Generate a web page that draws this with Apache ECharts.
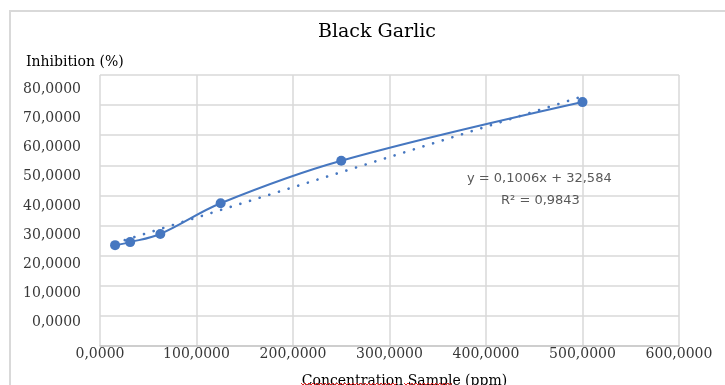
<!DOCTYPE html>
<html>
<head>
<meta charset="utf-8">
<script src="https://cdn.jsdelivr.net/npm/echarts@6/dist/echarts.min.js"></script>
<style>
  html, body { margin: 0; padding: 0; background: #ffffff; }
  #chart { width: 725px; height: 385px; }
</style>
</head>
<body>
<div id="chart"></div>
<script>
// ---- data ----
const concentrations = [15.625, 31.25, 62.5, 125, 250, 500];
const inhibition = [33.5, 34.5, 37.2, 47.4, 61.5, 81.0];
const yTickLabels = [0, 10, 20, 30, 40, 50, 60, 70, 80];
const xTickLabels = [0, 100, 200, 300, 400, 500, 600];
const trendSlope = 0.1006;
const trendIntercept = 32.584;
const equationText = 'y = 0,1006x + 32,584';
const r2Text = 'R² = 0,9843';
const titleText = 'Black Garlic';
const yAxisTitle = 'Inhibition (%)';
const xAxisTitle = 'Concentration Sample (ppm)';

// ---- build ----
const fmt = v => v.toFixed(4).replace('.', ',');
const points = concentrations.map((c, i) => [c, inhibition[i]]);
const xMin = Math.min(...concentrations), xMax = Math.max(...concentrations);
const trend = [[xMin, trendSlope * xMin + trendIntercept], [xMax, trendSlope * xMax + trendIntercept]];
const blue = '#4677c0';
const serif = 'DejaVu Serif';

// spell-check style wavy underline (decoration only)
function squiggle(x0, x1, y) {
  const pts = [];
  let up = true;
  for (let x = x0; x <= x1; x += 2) { pts.push([x, up ? y - 1 : y + 1]); up = !up; }
  return { type: 'polyline', z: 20, silent: true, shape: { points: pts },
    style: { stroke: '#e02020', lineWidth: 1, fill: null } };
}

const chart = echarts.init(document.getElementById('chart'), null, { renderer: 'canvas' });
chart.setOption({
  animation: false,
  backgroundColor: '#ffffff',
  title: [
    { text: titleText, left: 313, top: 18,
      textStyle: { fontFamily: serif, fontSize: 19, fontWeight: 'normal', color: '#000000' } },
    { text: yAxisTitle, left: 21, top: 50,
      textStyle: { fontFamily: serif, fontSize: 14, fontWeight: 'normal', color: '#000000' } }
  ],
  grid: { left: 100, right: 46, top: 75, bottom: 39, containLabel: false, outerBoundsMode: 'none' },
  xAxis: {
    type: 'value', min: 0, max: 600, interval: 100,
    name: xAxisTitle, nameLocation: 'middle', nameGap: 28,
    nameTextStyle: { fontFamily: serif, fontSize: 14, color: '#000000', padding: [0, 0, 0, 30] },
    axisLine: { show: true, lineStyle: { color: '#c8c8c8', width: 1.5 } },
    axisTick: { show: false },
    axisLabel: { fontFamily: serif, fontSize: 14, color: '#383838', margin: 1,
      customValues: xTickLabels, formatter: v => fmt(v) },
    splitLine: { show: true, lineStyle: { color: '#d9d9d9', width: 1.5 } }
  },
  yAxis: [
    { type: 'value', min: 0, max: 90, interval: 10,
      axisLine: { show: false }, axisTick: { show: false }, axisLabel: { show: false },
      splitLine: { show: true, lineStyle: { color: '#d9d9d9', width: 1.5 } } },
    { type: 'value', min: -7.98, max: 84.89, position: 'left', scale: true,
      axisLine: { show: false }, axisTick: { show: false }, splitLine: { show: false },
      axisLabel: { fontFamily: serif, fontSize: 14, color: '#383838', margin: 19,
        padding: [4, 0, 0, 0],
        customValues: yTickLabels, formatter: v => fmt(v) } }
  ],
  graphic: [
    { type: 'rect', z: -10, silent: true,
      shape: { x: 10, y: 11, width: 760, height: 420 },
      style: { fill: 'none', stroke: '#d9d9d9', lineWidth: 2 } },
    { type: 'text', left: 467, top: 172, z: 10,
      style: { text: equationText, fontFamily: 'DejaVu Sans', fontSize: 13, fill: '#595959' } },
    { type: 'text', left: 501, top: 194, z: 10,
      style: { text: r2Text, fontFamily: 'DejaVu Sans', fontSize: 13, fill: '#595959' } },
    squiggle(301, 397, 384),
    squiggle(404, 452, 384)
  ],
  series: [
    { type: 'line', name: 'trend', data: trend, yAxisIndex: 0, showSymbol: false, z: 2,
      lineStyle: { color: blue, width: 2.6, type: [0.1, 10], cap: 'round' } },
    { type: 'line', name: 'Black Garlic', data: points, yAxisIndex: 0, smooth: 0.35, z: 3,
      symbol: 'circle', symbolSize: 10,
      itemStyle: { color: blue },
      lineStyle: { color: blue, width: 2 } }
  ]
});
</script>
</body>
</html>
